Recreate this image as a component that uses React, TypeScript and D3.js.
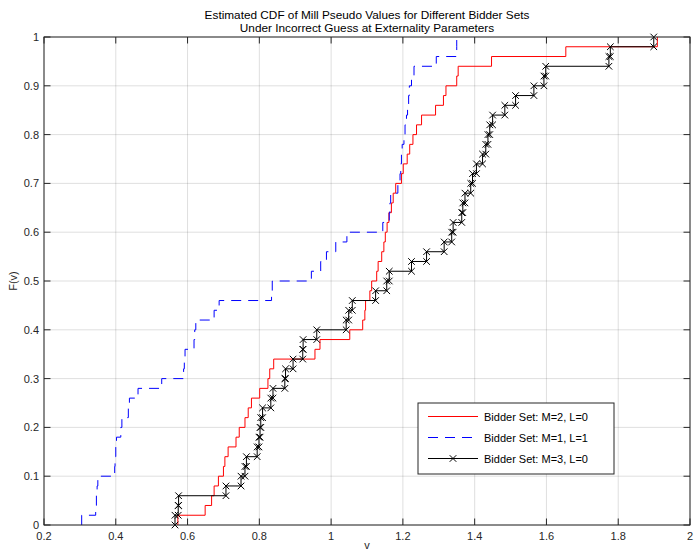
import React from "react";
import * as d3 from "d3";

// Sorted sample values (each step of the empirical CDF is 1/n)
const redValues = [
  0.573, 0.649, 0.667, 0.674, 0.686, 0.7, 0.704, 0.713, 0.735, 0.744,
  0.76, 0.769, 0.778, 0.801, 0.824, 0.829, 0.84, 0.955, 0.969, 1.052,
  1.088, 1.094, 1.096, 1.108, 1.113, 1.127, 1.131, 1.141, 1.147, 1.151,
  1.156, 1.161, 1.168, 1.173, 1.18, 1.196, 1.201, 1.212, 1.219, 1.228,
  1.238, 1.252, 1.291, 1.313, 1.32, 1.35, 1.354, 1.447, 1.654, 1.909,
];
const blueValues = [
  0.305, 0.344, 0.346, 0.348, 0.35, 0.397, 0.398, 0.4, 0.402, 0.414,
  0.417, 0.435, 0.438, 0.462, 0.528, 0.589, 0.591, 0.593, 0.618, 0.62,
  0.623, 0.674, 0.688, 0.834, 0.836, 0.945, 0.971, 0.987, 1.013, 1.044,
  1.144, 1.162, 1.164, 1.166, 1.186, 1.192, 1.194, 1.196, 1.198, 1.203,
  1.206, 1.21, 1.213, 1.216, 1.218, 1.224, 1.231, 1.293, 1.35, 1.35,
];
const blackValues = [
  0.565, 0.574, 0.575, 0.707, 0.749, 0.76, 0.764, 0.794, 0.799, 0.802,
  0.804, 0.809, 0.832, 0.838, 0.871, 0.873, 0.894, 0.921, 0.922, 0.96,
  1.042, 1.049, 1.059, 1.124, 1.155, 1.162, 1.224, 1.266, 1.315, 1.336,
  1.34, 1.364, 1.367, 1.373, 1.389, 1.394, 1.405, 1.422, 1.431, 1.437,
  1.442, 1.45, 1.484, 1.514, 1.565, 1.593, 1.598, 1.774, 1.778, 1.899,
];

const xTicks = [0.2, 0.4, 0.6, 0.8, 1, 1.2, 1.4, 1.6, 1.8, 2];
const yTicks = [0, 0.1, 0.2, 0.3, 0.4, 0.5, 0.6, 0.7, 0.8, 0.9, 1];
const legendLabels = [
  "Bidder Set: M=2, L=0",
  "Bidder Set: M=1, L=1",
  "Bidder Set: M=3, L=0",
];
const titleLines = [
  "Estimated CDF of Mill Pseudo Values for Different Bidder Sets",
  "Under Incorrect Guess at Externality Parameters",
];

const W = 694;
const H = 550;
const L = 44, R = 690, T = 37, B = 525;
const FONT = "'Liberation Sans', Arial, Helvetica, sans-serif";
const AX = "#262626";

const x = d3.scaleLinear().domain([0.2, 2]).range([L, R]);
const y = d3.scaleLinear().domain([0, 1]).range([B, T]);

function ecdfCorners(vals: number[]): [number, number][] {
  const n = vals.length;
  const pts: [number, number][] = [];
  vals.forEach((v, i) => {
    pts.push([v, i / n]);
    pts.push([v, (i + 1) / n]);
  });
  return pts;
}

const lineGen = d3
  .line<[number, number]>()
  .x((d) => x(d[0]))
  .y((d) => y(d[1]));

function XMark({ cx, cy, s = 3.3 }: { cx: number; cy: number; s?: number }) {
  return (
    <path
      d={`M${cx - s},${cy - s}L${cx + s},${cy + s}M${cx - s},${cy + s}L${cx + s},${cy - s}`}
      stroke="#000"
      strokeWidth={1}
      fill="none"
    />
  );
}

export default function App() {
  const redPts = ecdfCorners(redValues);
  const bluePts = ecdfCorners(blueValues);
  const blackPts = ecdfCorners(blackValues);
  const tick = 6.5;

  const lgX = 418, lgY = 403, lgW = 196, lgH = 71;
  const rowY = [416.5, 437.5, 458.5];

  return (
    <svg width={W} height={H} style={{ position: "absolute", left: 0, top: 0, background: "#fff" }}>
      <rect x={0} y={0} width={W} height={H} fill="#fff" />
      {/* grid */}
      <g stroke="#262626" strokeOpacity={0.15} strokeWidth={1}>
        {xTicks.map((t) => (
          <line key={"gx" + t} x1={x(t)} x2={x(t)} y1={T} y2={B} />
        ))}
        {yTicks.map((t) => (
          <line key={"gy" + t} x1={L} x2={R} y1={y(t)} y2={y(t)} />
        ))}
      </g>
      {/* series */}
      <path d={lineGen(redPts) || ""} stroke="#ff0000" strokeWidth={1} fill="none" />
      <path d={lineGen(bluePts) || ""} stroke="#0000ff" strokeWidth={1} fill="none" strokeDasharray="10,7" />
      <path d={lineGen(blackPts) || ""} stroke="#000" strokeWidth={1} fill="none" />
      {blackPts.map((p, i) => (
        <XMark key={"m" + i} cx={x(p[0])} cy={y(p[1])} />
      ))}
      {/* axes box and ticks */}
      <rect x={L} y={T} width={R - L} height={B - T} fill="none" stroke={AX} strokeWidth={1} />
      <g stroke={AX} strokeWidth={1}>
        {xTicks.map((t) => (
          <g key={"tx" + t}>
            <line x1={x(t)} x2={x(t)} y1={B} y2={B - tick} />
            <line x1={x(t)} x2={x(t)} y1={T} y2={T + tick} />
          </g>
        ))}
        {yTicks.map((t) => (
          <g key={"ty" + t}>
            <line x1={L} x2={L + tick} y1={y(t)} y2={y(t)} />
            <line x1={R} x2={R - tick} y1={y(t)} y2={y(t)} />
          </g>
        ))}
      </g>
      <g fontFamily={FONT} fontSize={11} fill={AX}>
        {xTicks.map((t) => (
          <text key={"lx" + t} x={x(t)} y={B + 15} textAnchor="middle">
            {String(t)}
          </text>
        ))}
        {yTicks.map((t) => (
          <text key={"ly" + t} x={L - 5} y={y(t) + 4} textAnchor="end">
            {String(t)}
          </text>
        ))}
        <text x={(L + R) / 2} y={549} textAnchor="middle">v</text>
        <text transform={`translate(17,${(T + B) / 2}) rotate(-90)`} textAnchor="middle">F(v)</text>
        <text x={(L + R) / 2} y={19} textAnchor="middle" fill="#000" fontSize={11.8}>{titleLines[0]}</text>
        <text x={(L + R) / 2} y={31.5} textAnchor="middle" fill="#000" fontSize={11.8}>{titleLines[1]}</text>
      </g>
      {/* legend */}
      <rect x={lgX} y={lgY} width={lgW} height={lgH} fill="#fff" stroke={AX} strokeWidth={1} />
      <line x1={428} x2={478} y1={rowY[0]} y2={rowY[0]} stroke="#ff0000" strokeWidth={1} />
      <line x1={428} x2={478} y1={rowY[1]} y2={rowY[1]} stroke="#0000ff" strokeWidth={1} strokeDasharray="10,7" />
      <line x1={428} x2={478} y1={rowY[2]} y2={rowY[2]} stroke="#000" strokeWidth={1} />
      <XMark cx={453} cy={rowY[2]} />
      <g fontFamily={FONT} fontSize={11} fill="#000">
        {legendLabels.map((l, i) => (
          <text key={l} x={484} y={rowY[i] + 4}>{l}</text>
        ))}
      </g>
    </svg>
  );
}
